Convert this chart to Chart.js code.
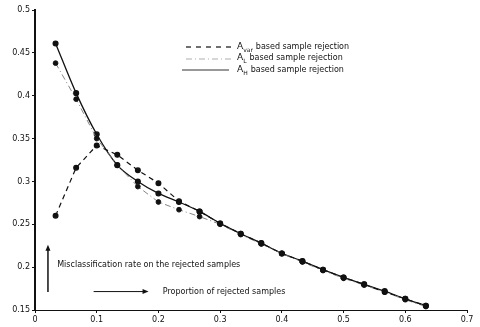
<!DOCTYPE html>
<html>
<head>
<meta charset="utf-8">
<script src="https://cdn.jsdelivr.net/npm/chart.js@4/dist/chart.umd.min.js"></script>
<style>
  html, body { margin: 0; padding: 0; background: #fff; }
  #wrap { width: 480px; height: 327px; }
</style>
</head>
<body>
<div id="wrap"><canvas id="chart" width="480" height="327"></canvas></div>
<script>
// proportion of rejected samples (x)
const proportion = [1/30, 2/30, 3/30, 4/30, 5/30, 6/30, 7/30, 8/30, 9/30, 10/30,
  11/30, 12/30, 13/30, 14/30, 15/30, 16/30, 17/30, 18/30, 19/30];

// misclassification rate on the rejected samples
const aVar = [0.260, 0.316, 0.342, 0.331, 0.313, 0.298, 0.277, 0.265, 0.251, 0.239,
  0.228, 0.216, 0.207, 0.197, 0.188, 0.180, 0.171, 0.163, 0.155];
const aL = [0.438, 0.396, 0.350, 0.319, 0.294, 0.276, 0.267, 0.259, 0.250, 0.238,
  0.227, 0.216, 0.206, 0.196, 0.187, 0.179, 0.171, 0.162, 0.154];
const aH = [0.461, 0.403, 0.355, 0.319, 0.300, 0.286, 0.276, 0.265, 0.251, 0.239,
  0.228, 0.216, 0.207, 0.197, 0.188, 0.180, 0.172, 0.163, 0.155];

const xTicks = [0, 0.1, 0.2, 0.3, 0.4, 0.5, 0.6, 0.7];
const yTicks = [0.15, 0.2, 0.25, 0.3, 0.35, 0.4, 0.45, 0.5];

function toPoints(ys) {
  return proportion.map((x, i) => ({ x: x, y: ys[i] }));
}

// text with a subscript, e.g. A_var
function subText(ctx, x, y, main, sub, rest) {
  ctx.font = "9px 'DejaVu Sans', sans-serif";
  ctx.fillText(main, x, y);
  let w = ctx.measureText(main).width;
  ctx.font = "6px 'DejaVu Sans', sans-serif";
  ctx.fillText(sub, x + w, y + 3);
  w += ctx.measureText(sub).width + 3;
  ctx.font = "8px 'DejaVu Sans', sans-serif";
  ctx.fillText(rest, x + w, y);
}

const annotations = {
  id: "annotations",
  afterDraw(chart) {
    const ctx = chart.ctx;
    const xs = chart.scales.x, ys = chart.scales.y;
    ctx.save();
    ctx.fillStyle = "#111";
    ctx.strokeStyle = "#111";
    ctx.textBaseline = "middle";

    // legend
    ctx.lineWidth = 1.2;
    ctx.setLineDash([5, 5]);
    ctx.beginPath(); ctx.moveTo(186, 47); ctx.lineTo(232, 47); ctx.stroke();
    ctx.setLineDash([6, 3, 1, 3]);
    ctx.strokeStyle = "#999";
    ctx.lineWidth = 0.8;
    ctx.beginPath(); ctx.moveTo(186, 59); ctx.lineTo(232, 59); ctx.stroke();
    ctx.setLineDash([]);
    ctx.strokeStyle = "#333";
    ctx.lineWidth = 1;
    ctx.beginPath(); ctx.moveTo(182, 70); ctx.lineTo(229, 70); ctx.stroke();
    subText(ctx, 237, 47, "A", "var", "based sample rejection");
    subText(ctx, 237, 58, "A", "L", "based sample rejection");
    subText(ctx, 237, 70, "A", "H", "based sample rejection");

    // up arrow + y description
    ctx.strokeStyle = "#111";
    ctx.lineWidth = 1.5;
    const ax = xs.getPixelForValue(0.021);
    const ay0 = ys.getPixelForValue(0.171), ay1 = ys.getPixelForValue(0.226);
    ctx.beginPath(); ctx.moveTo(ax, ay0); ctx.lineTo(ax, ay1 + 4); ctx.stroke();
    ctx.beginPath(); ctx.moveTo(ax, ay1); ctx.lineTo(ax - 2.5, ay1 + 6); ctx.lineTo(ax + 2.5, ay1 + 6); ctx.closePath(); ctx.fill();
    ctx.font = "8px 'DejaVu Sans', sans-serif";
    ctx.fillText("Misclassification rate on the rejected samples", xs.getPixelForValue(0.036), ys.getPixelForValue(0.203));

    // right arrow + x description
    ctx.lineWidth = 1;
    const by = ys.getPixelForValue(0.1715);
    const bx0 = xs.getPixelForValue(0.095), bx1 = xs.getPixelForValue(0.184);
    ctx.beginPath(); ctx.moveTo(bx0, by); ctx.lineTo(bx1 - 4, by); ctx.stroke();
    ctx.beginPath(); ctx.moveTo(bx1, by); ctx.lineTo(bx1 - 6, by - 2.5); ctx.lineTo(bx1 - 6, by + 2.5); ctx.closePath(); ctx.fill();
    ctx.fillText("Proportion of rejected samples", xs.getPixelForValue(0.207), by);
    ctx.restore();
  }
};

new Chart(document.getElementById("chart"), {
  type: "line",
  data: {
    datasets: [
      {
        label: "A_var based sample rejection",
        data: toPoints(aVar),
        borderColor: "#111",
        borderWidth: 1.2,
        borderDash: [5, 4],
        pointRadius: 2.4,
        pointBackgroundColor: "#111",
        pointBorderColor: "#111",
      },
      {
        label: "A_L based sample rejection",
        data: toPoints(aL),
        borderColor: "#777",
        borderWidth: 0.9,
        borderDash: [6, 3, 1, 3],
        pointRadius: 2.4,
        pointBackgroundColor: "#111",
        pointBorderColor: "#111",
      },
      {
        label: "A_H based sample rejection",
        data: toPoints(aH),
        borderColor: "#111",
        borderWidth: 1.3,
        cubicInterpolationMode: "monotone",
        pointRadius: 2.4,
        pointBackgroundColor: "#111",
        pointBorderColor: "#111",
      },
    ],
  },
  options: {
    responsive: false,
    animation: false,
    layout: { padding: { top: 10, right: 13, left: 0, bottom: 0 } },
    plugins: { legend: { display: false }, tooltip: { enabled: false } },
    scales: {
      x: {
        type: "linear",
        min: 0,
        max: 0.7,
        afterFit: (s) => { s.height = 17; },
        afterBuildTicks: (s) => { s.ticks = xTicks.map((v) => ({ value: v })); },
        grid: { drawOnChartArea: false, tickLength: 3, color: "#111" },
        border: { color: "#111", width: 1 },
        ticks: {
          color: "#111",
          padding: 2,
          maxRotation: 0,
          font: { family: "'DejaVu Sans', sans-serif", size: 8 },
          callback: (v) => String(+v.toFixed(2)),
        },
      },
      y: {
        min: 0.15,
        max: 0.5,
        afterFit: (s) => { s.width = 35; },
        afterBuildTicks: (s) => { s.ticks = yTicks.map((v) => ({ value: v })); },
        grid: { drawOnChartArea: false, tickLength: 3, color: "#111" },
        border: { color: "#111", width: 2 },
        ticks: {
          color: "#111",
          padding: 2,
          font: { family: "'DejaVu Sans', sans-serif", size: 8 },
          callback: (v) => String(+v.toFixed(2)),
        },
      },
    },
  },
  plugins: [annotations],
});
</script>
</body>
</html>
